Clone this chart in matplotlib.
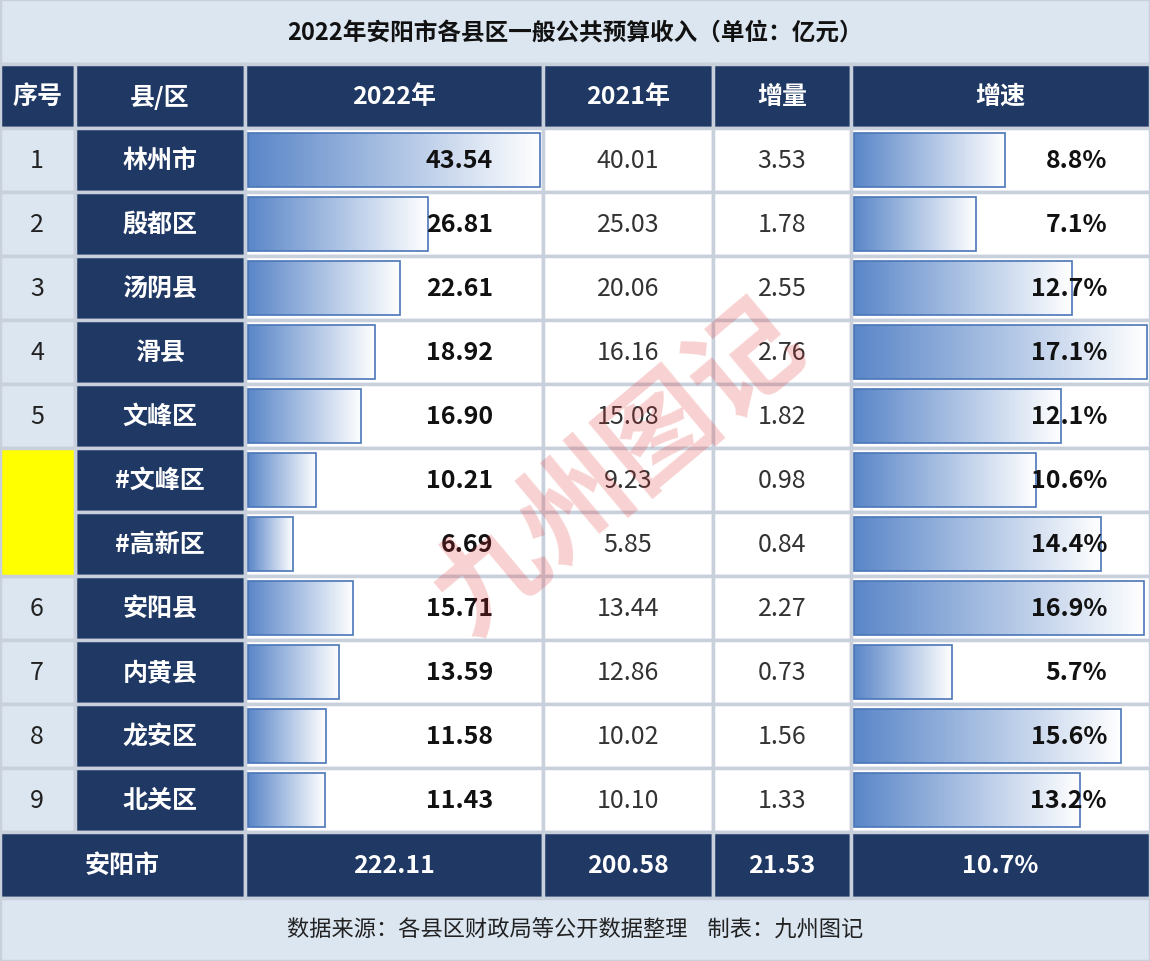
import matplotlib
matplotlib.use("Agg")
import matplotlib.pyplot as plt
import numpy as np
from matplotlib.patches import Rectangle
from matplotlib.colors import LinearSegmentedColormap

plt.rcParams['font.family'] = ['Noto Sans CJK SC', 'DejaVu Sans']

title = "2022年安阳市各县区一般公共预算收入（单位：亿元）"
headers = ["序号", "县/区", "2022年", "2021年", "增量", "增速"]
ranks = ["1", "2", "3", "4", "5", "", "", "6", "7", "8", "9"]
names = ["林州市", "殷都区", "汤阴县", "滑县", "文峰区", "#文峰区", "#高新区", "安阳县", "内黄县", "龙安区", "北关区"]
v2022 = [43.54, 26.81, 22.61, 18.92, 16.90, 10.21, 6.69, 15.71, 13.59, 11.58, 11.43]
v2021 = [40.01, 25.03, 20.06, 16.16, 15.08, 9.23, 5.85, 13.44, 12.86, 10.02, 10.10]
incr = [3.53, 1.78, 2.55, 2.76, 1.82, 0.98, 0.84, 2.27, 0.73, 1.56, 1.33]
growth = [8.8, 7.1, 12.7, 17.1, 12.1, 10.6, 14.4, 16.9, 5.7, 15.6, 13.2]
total = ["安阳市", "222.11", "200.58", "21.53", "10.7%"]
footer = "数据来源：各县区财政局等公开数据整理    制表：九州图记"

W, H = 1150, 962
fig = plt.figure(figsize=(W/100, H/100), dpi=100)
ax = fig.add_axes([0, 0, 1, 1])
ax.set_xlim(0, W); ax.set_ylim(H, 0); ax.axis('off')

navy = "#1f3864"; light = "#dce6f1"
cols = [0, 75, 245, 543, 713, 851, 1150]
FS = 18
def cell(x0, x1, y0, y1, fc):
    ax.add_patch(Rectangle((x0, y0), x1-x0, y1-y0, fc=fc, ec="#c8d0dc", lw=2.5, zorder=1))

cell(0, W, 0, 65, light)
ax.text(W/2, 33, title, ha='center', va='center', fontsize=17, weight='bold', color='#111')
hy0, hy1 = 65, 129
for i, h in enumerate(headers):
    cell(cols[i], cols[i+1], hy0, hy1, navy)
    ax.text((cols[i]+cols[i+1])/2, (hy0+hy1)/2, h, ha='center', va='center', fontsize=FS, weight='bold', color='white')

rh = 64
grad = np.linspace(0, 1, 256).reshape(1, -1)
cmap = LinearSegmentedColormap.from_list("g", ["#5a86c8", "#ffffff"])
maxv = max(v2022); maxg = max(growth)
for r in range(len(names)):
    y0 = hy1 + r*rh; y1 = y0 + rh; yc = (y0+y1)/2
    if r not in (5, 6):
        cell(cols[0], cols[1], y0, y1, light)
        ax.text(37, yc, ranks[r], ha='center', va='center', fontsize=FS, color='#222')
    cell(cols[1], cols[2], y0, y1, navy)
    ax.text(160, yc, names[r], ha='center', va='center', fontsize=FS, weight='bold', color='white')
    for c in range(2, 6):
        cell(cols[c], cols[c+1], y0, y1, "white")
    for (x0, x1, v, m) in [(cols[2], cols[3], v2022[r], maxv), (cols[5], cols[6], growth[r], maxg)]:
        bw = (x1 - x0 - 6) * v / m
        ax.imshow(grad, extent=(x0+3, x0+3+bw, y1-5, y0+5), cmap=cmap, aspect='auto', zorder=2)
        ax.add_patch(Rectangle((x0+3, y0+5), bw, rh-10, fc='none', ec="#4a76b8", lw=1.2, zorder=3))
    ax.text(493, yc, f"{v2022[r]:.2f}", ha='right', va='center', fontsize=FS, weight='bold', color='#111', zorder=4)
    ax.text(628, yc, f"{v2021[r]:.2f}", ha='center', va='center', fontsize=FS, color='#333')
    ax.text(782, yc, f"{incr[r]:.2f}", ha='center', va='center', fontsize=FS, color='#333')
    ax.text(1107, yc, f"{growth[r]:.1f}%", ha='right', va='center', fontsize=FS, weight='bold', color='#111', zorder=4)
ax.add_patch(Rectangle((cols[0], hy1+5*rh), cols[1], 2*rh, fc="#ffff00", ec="#c8d0dc", lw=2.5, zorder=1))

ty0 = hy1 + len(names)*rh; ty1 = ty0 + 66
cell(cols[0], cols[2], ty0, ty1, navy)
ax.text(122, (ty0+ty1)/2, total[0], ha='center', va='center', fontsize=FS, weight='bold', color='white')
for i in range(1, 5):
    cell(cols[i+1], cols[i+2], ty0, ty1, navy)
    ax.text((cols[i+1]+cols[i+2])/2, (ty0+ty1)/2, total[i], ha='center', va='center', fontsize=FS, weight='bold', color='white')
cell(0, W, ty1, H, light)
ax.text(W/2, (ty1+H)/2, footer, ha='center', va='center', fontsize=16, color='#222')
ax.text(620, 470, "九州图记", ha='center', va='center', fontsize=80, color='#e03030', alpha=0.22, rotation=40, zorder=5, weight='bold')
fig.savefig("out.png", dpi=100)
